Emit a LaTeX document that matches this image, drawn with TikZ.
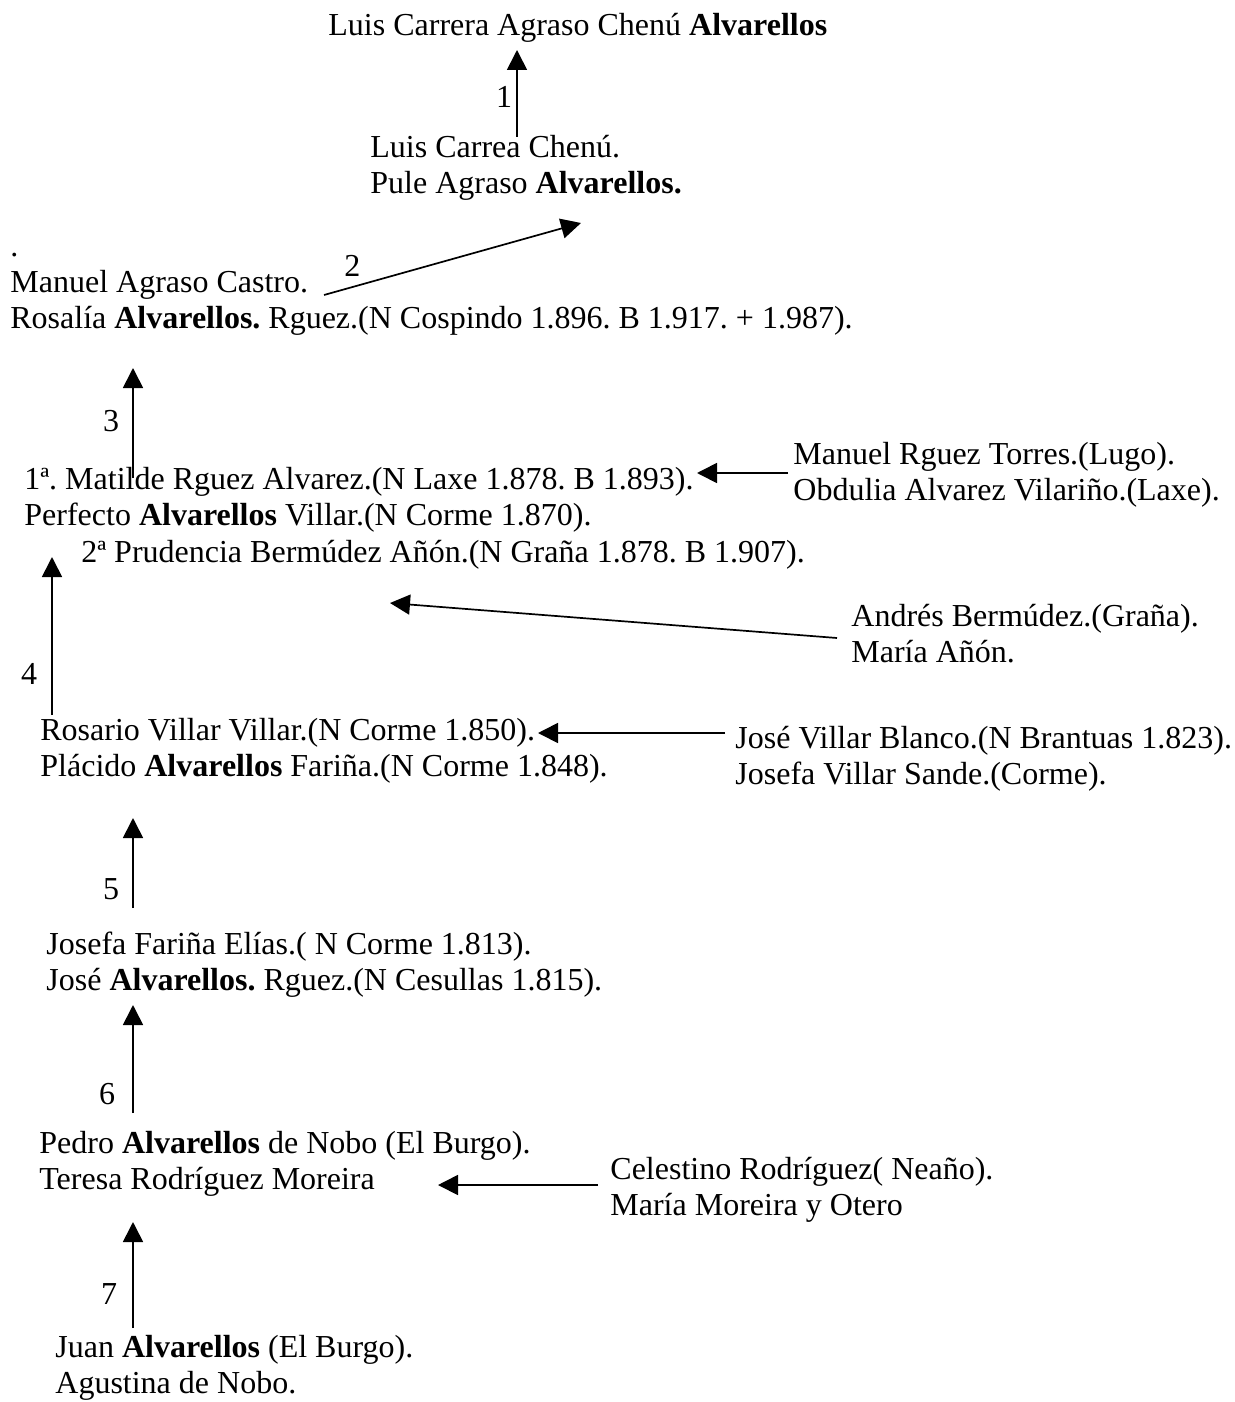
\documentclass[tikz,border=0pt]{standalone}
\usepackage{fontspec}
\setmainfont{Liberation Serif}
\usetikzlibrary{arrows.meta}
\frenchspacing

\begin{document}
\begin{tikzpicture}[x=0.5pt, y=-0.5pt]
    % Styles for names and arrows (base is the last line of a name block)
    \tikzstyle{person} = [anchor=base west, inner sep=0pt, align=left, font=\fontsize{16}{18}\selectfont]
    \tikzstyle{num} = [inner sep=0pt, font=\fontsize{16}{18}\selectfont]
    \tikzstyle{arrow} = [line width=0.85pt, -{Triangle[length=10pt, width=10pt]}]

    \useasboundingbox (0,0) rectangle (1235,1402);

    % Nodes
    \node[person] (luiscarrera) at (328,36) {Luis Carrera Agraso Chenú \textbf{Alvarellos}};
    \node[person] (luis) at (370,193) {Luis Carrea Chenú.\\Pule Agraso \textbf{Alvarellos.}};
    \node[person] (manuel) at (10,328) {.\\Manuel Agraso Castro.\\Rosalía \textbf{Alvarellos.} Rguez.(N Cospindo 1.896. B 1.917. + 1.987).};
    \node[person] (perfecto) at (24,525) {1ª. Matilde Rguez Alvarez.(N Laxe 1.878. B 1.893).\\Perfecto \textbf{Alvarellos} Villar.(N Corme 1.870).};
    \node[person] (prudencia) at (81,562) {2ª Prudencia Bermúdez Añón.(N Graña 1.878. B 1.907).};
    \node[person] (rguez) at (793,500) {Manuel Rguez Torres.(Lugo).\\Obdulia Alvarez Vilariño.(Laxe).};
    \node[person] (bermudez) at (851,662) {Andrés Bermúdez.(Graña).\\María Añón.};
    \node[person] (placido) at (40,776) {Rosario Villar Villar.(N Corme 1.850).\\Plácido \textbf{Alvarellos} Fariña.(N Corme 1.848).};
    \node[person] (villar) at (735,784) {José Villar Blanco.(N Brantuas 1.823).\\Josefa Villar Sande.(Corme).};
    \node[person] (jose) at (46,990) {Josefa Fariña Elías.( N Corme 1.813).\\José \textbf{Alvarellos.} Rguez.(N Cesullas 1.815).};
    \node[person] (pedro) at (39,1189) {Pedro \textbf{Alvarellos} de Nobo (El Burgo).\\Teresa Rodríguez Moreira};
    \node[person] (rodriguez) at (610,1215) {Celestino Rodríguez( Neaño).\\María Moreira y Otero};
    \node[person] (juan) at (55,1393) {Juan \textbf{Alvarellos} (El Burgo).\\Agustina de Nobo.};

    % Arrow ends
    \coordinate (from1) at (517,137);  \coordinate (to1) at (517,50);
    \coordinate (from2) at (324,295);  \coordinate (to2) at (581,223);
    \coordinate (from3) at (133,478);  \coordinate (to3) at (133,368);
    \coordinate (from4) at (52,715);   \coordinate (to4) at (52,557);
    \coordinate (from5) at (133,908);  \coordinate (to5) at (133,818);
    \coordinate (from6) at (133,1113); \coordinate (to6) at (133,1005);
    \coordinate (from7) at (133,1328); \coordinate (to7) at (133,1222);
    \coordinate (fromrguez) at (788,473);     \coordinate (torguez) at (697,473);
    \coordinate (frombermudez) at (837,638);  \coordinate (tobermudez) at (390,603);
    \coordinate (fromvillar) at (725,733);    \coordinate (tovillar) at (538,733);
    \coordinate (fromrodriguez) at (598,1185); \coordinate (torodriguez) at (438,1185);

    % Arrows
    \draw[arrow] (from1) -- node[num, pos=0.46, left=2pt] {1} (to1);
    \draw[arrow] (from2) -- node[num, pos=0.11, above=5pt] {2} (to2);
    \draw[arrow] (from3) -- node[num, pos=0.52, left=6.5pt] {3} (to3);
    \draw[arrow] (from4) -- node[num, pos=0.26, left=7pt] {4} (to4);
    \draw[arrow] (from5) -- node[num, pos=0.21, left=6.5pt] {5} (to5);
    \draw[arrow] (from6) -- node[num, pos=0.18, left=8.5pt] {6} (to6);
    \draw[arrow] (from7) -- node[num, pos=0.32, left=7.5pt] {7} (to7);
    \draw[arrow] (fromrguez) -- (torguez);
    \draw[arrow] (frombermudez) -- (tobermudez);
    \draw[arrow] (fromvillar) -- (tovillar);
    \draw[arrow] (fromrodriguez) -- (torodriguez);
\end{tikzpicture}
\end{document}
